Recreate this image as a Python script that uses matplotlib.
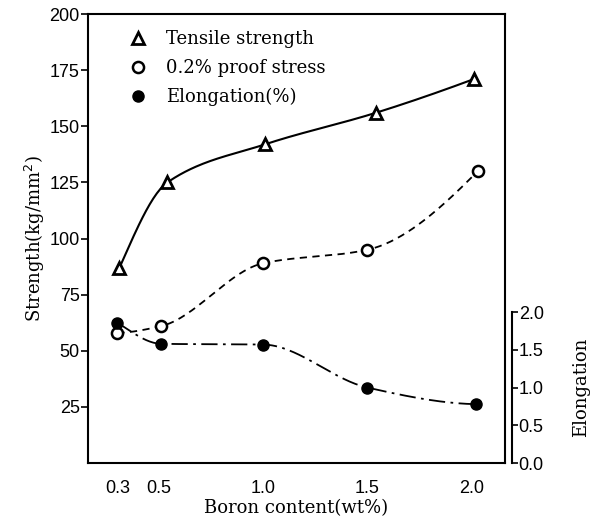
import numpy as np
import matplotlib
matplotlib.use('Agg')
import matplotlib.pyplot as plt

# values
ts_x = [0.31, 0.54, 1.01, 1.54, 2.01]
ts_y = [87, 125, 142, 156, 171]

ps_x = [0.30, 0.51, 1.00, 1.50, 2.03]
ps_y = [58, 61, 89, 95, 130]

el_x = [0.30, 0.51, 1.00, 1.50, 2.02]
el_y = [1.86, 1.58, 1.57, 1.00, 0.78]

x_ticks = [0.3, 0.5, 1.0, 1.5, 2.0]
x_labels = ['0.3', '0.5', '1.0', '1.5', '2.0']


def end_slope(h0, h1, d0, d1):
    m = ((2 * h0 + h1) * d0 - h0 * d1) / (h0 + h1)
    if np.sign(m) != np.sign(d0):
        m = 0.0
    elif np.sign(d0) != np.sign(d1) and abs(m) > abs(3 * d0):
        m = 3 * d0
    return m


def smooth(x, y, n=200):
    # monotone cubic (pchip) through the points, only to draw the curve
    x = np.asarray(x, float)
    y = np.asarray(y, float)
    h = np.diff(x)
    d = np.diff(y) / h
    m = np.zeros_like(y)
    for i in range(1, len(x) - 1):
        if d[i - 1] * d[i] > 0:
            w1 = 2 * h[i] + h[i - 1]
            w2 = h[i] + 2 * h[i - 1]
            m[i] = (w1 + w2) / (w1 / d[i - 1] + w2 / d[i])
    m[0] = end_slope(h[0], h[1], d[0], d[1])
    m[-1] = end_slope(h[-1], h[-2], d[-1], d[-2])
    xs = np.linspace(x[0], x[-1], n)
    idx = np.clip(np.searchsorted(x, xs) - 1, 0, len(x) - 2)
    t = (xs - x[idx]) / h[idx]
    h00 = 2 * t**3 - 3 * t**2 + 1
    h10 = t**3 - 2 * t**2 + t
    h01 = -2 * t**3 + 3 * t**2
    h11 = t**3 - t**2
    ys = h00 * y[idx] + h10 * h[idx] * m[idx] + h01 * y[idx + 1] + h11 * h[idx] * m[idx + 1]
    return xs, ys


serif = 'DejaVu Serif'
plt.rcParams['font.family'] = 'Liberation Sans'

fig = plt.figure(figsize=(5.96, 5.22), dpi=100)
ax = fig.add_axes([0.148, 0.113, 0.699, 0.860])

for sp in ax.spines.values():
    sp.set_linewidth(1.5)

sx, sy = smooth(ts_x, ts_y)
ax.plot(sx, sy, color='black', lw=1.5, ls='-')
ax.plot(ts_x, ts_y, ls='none', marker='^', ms=9, mfc='white', mec='black', mew=2,
        label='Tensile strength')

sx, sy = smooth(ps_x, ps_y)
ax.plot(sx, sy, color='black', lw=1.3, ls=(0, (4, 3)))
ax.plot(ps_x, ps_y, ls='none', marker='o', ms=8, mfc='white', mec='black', mew=1.8,
        label='0.2% proof stress')

ax.set_xlim(0.16, 2.16)
ax.set_ylim(0, 200)
ax.set_yticks([25, 50, 75, 100, 125, 150, 175, 200])
ax.set_xticks(x_ticks)
ax.set_xticklabels(x_labels)
ax.tick_params(axis='y', direction='out', length=5, width=1.2, labelsize=13, pad=1)
ax.tick_params(axis='x', length=0, labelsize=13, pad=12)
ax.set_ylabel('Strength(kg/mm$^2$)', fontsize=13, family=serif, labelpad=2)
ax.set_xlabel('Boron content(wt%)', fontsize=13, family=serif, labelpad=2)

ax2 = ax.twinx()
ex, ey = smooth(el_x, el_y)
ax2.plot(ex, ey, color='black', lw=1.3, ls=(0, (9, 3, 1.5, 3)))
ax2.plot(el_x, el_y, ls='none', marker='o', ms=8, mfc='black', mec='black',
         label='Elongation(%)')
ax2.set_ylim(0, 5.95)
ax2.set_yticks([0.0, 0.5, 1.0, 1.5, 2.0])
ax2.set_yticklabels(['0.0', '0.5', '1.0', '1.5', '2.0'])
for s in ['top', 'left', 'bottom']:
    ax2.spines[s].set_visible(False)
ax2.spines['right'].set_position(('outward', 5))
ax2.spines['right'].set_bounds(0, 2.0)
ax2.spines['right'].set_linewidth(1.5)
ax2.tick_params(axis='y', direction='out', length=4, width=1.2, labelsize=13, pad=1)
fig.text(581 / 596, 1 - 387 / 522, 'Elongation', rotation=90, ha='center', va='center',
         fontsize=13, family=serif)

h1, l1 = ax.get_legend_handles_labels()
h2, l2 = ax2.get_legend_handles_labels()
ax.legend(h1 + h2, l1 + l2, loc='upper left', bbox_to_anchor=(0.06, 1.0),
          frameon=False, prop={'family': serif, 'size': 13},
          handlelength=1.0, handletextpad=1.0, labelspacing=0.6)

fig.savefig('out.png', dpi=100)
